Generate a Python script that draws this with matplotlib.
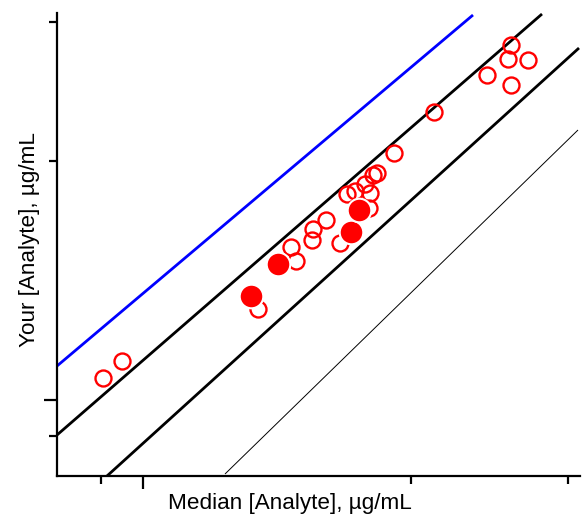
import matplotlib
matplotlib.use("Agg")
import matplotlib.pyplot as plt

plt.rcParams['font.family'] = ['Liberation Sans', 'DejaVu Sans']

# Data (arbitrary linear units)
open_x = [4.6, 6.5, 37.7, 43.0, 45.4, 45.1, 47.1, 45.4, 20.1, 23.9, 23.4, 25.5,
          25.6, 26.9, 28.3, 29.0, 29.8, 30.8, 31.3, 31.6, 32.0, 31.2, 33.7]
open_y = [9.8, 11.5, 36.4, 40.1, 43.1, 41.7, 41.6, 39.1, 16.7, 21.5, 22.9, 23.6,
          24.7, 25.6, 23.3, 28.2, 28.5, 29.2, 28.3, 30.1, 30.3, 26.8, 32.3]
filled_x = [19.4, 22.1, 29.4, 30.2]
filled_y = [18.0, 21.2, 24.4, 26.6]

blue_x = [0.0, 41.6]
blue_y = [11.0, 46.1]
upper_x = [0.0, 48.5]
upper_y = [4.1, 46.2]
lower_x = [5.0, 52.2]
lower_y = [0.0, 42.8]
thin_x = [16.8, 52.1]
thin_y = [0.2, 34.6]

x_major_ticks = [8.6]
x_minor_ticks = [4.4, 35.4, 51.1]
y_major_ticks = [7.6]
y_minor_ticks = [4.0, 31.5, 45.4]

xlabel = "Median [Analyte], µg/mL"
ylabel = "Your [Analyte], µg/mL"

fig = plt.figure(figsize=(5.88, 5.29), dpi=100)
ax = fig.add_axes([57/588, 1 - 476/529, (580-57)/588, (476-13)/529])
ax.set_xlim(0, 52.3)
ax.set_ylim(0, 46.3)

ax.plot(blue_x, blue_y, color='#0000ff', lw=2.0, solid_capstyle='butt')
ax.plot(upper_x, upper_y, color='black', lw=2.0, solid_capstyle='butt')
ax.plot(lower_x, lower_y, color='black', lw=2.0, solid_capstyle='butt')
ax.plot(thin_x, thin_y, color='black', lw=0.7, solid_capstyle='butt')

ax.plot(open_x, open_y, 'o', ms=11.5, mfc='none', mec='#ff0000', mew=1.7, linestyle='none')
ax.plot(filled_x, filled_y, 'o', ms=17, mfc='#ff0000', mec='white', mew=1.5, linestyle='none')

for s in ['top', 'right']:
    ax.spines[s].set_visible(False)
for s in ['left', 'bottom']:
    ax.spines[s].set_linewidth(1.6)

ax.set_xticks(x_major_ticks)
ax.set_xticks(x_minor_ticks, minor=True)
ax.set_yticks(y_major_ticks)
ax.set_yticks(y_minor_ticks, minor=True)
ax.tick_params(which='major', length=9.5, width=1.6, labelbottom=False, labelleft=False)
ax.tick_params(which='minor', length=5.5, width=1.6, labelbottom=False, labelleft=False)

fig.text(290/588, 1 - 504/529, xlabel, ha='center', va='center', fontsize=16.2)
fig.text(30/588, 1 - 240/529, ylabel, ha='center', va='center', rotation=90, fontsize=16.2)

fig.savefig('out.png', dpi=100)
